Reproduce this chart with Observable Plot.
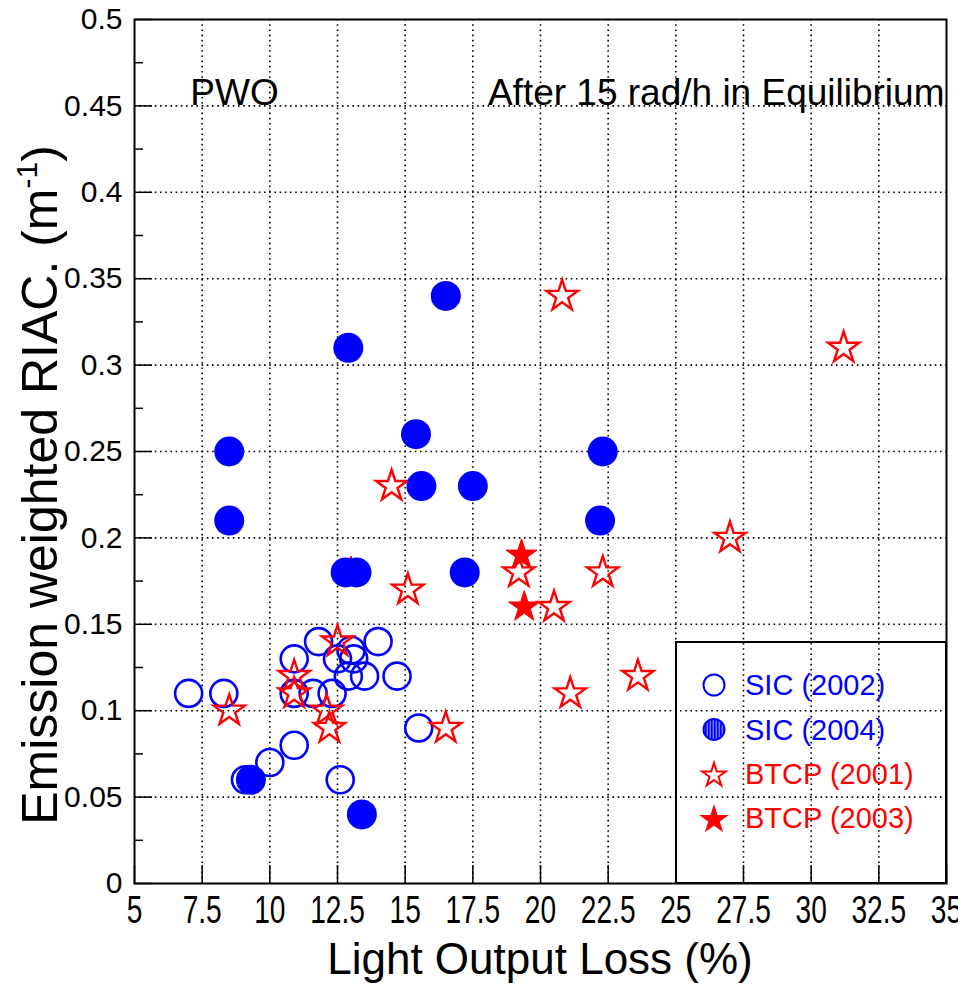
<!DOCTYPE html>
<html><head><meta charset="utf-8">
<script src="https://cdn.jsdelivr.net/npm/d3@7"></script>
<script src="https://cdn.jsdelivr.net/npm/@observablehq/plot@0.6"></script>
<style>body{margin:0;background:#fff} svg{display:block}</style>
</head><body><div id="chart"></div>
<script>
// ---- data ----
const sic2002X = [7.0, 8.3, 9.1, 10.0, 10.9, 10.9, 10.9, 11.6, 11.8, 12.3, 12.5, 12.9, 13.0, 13.1, 13.5, 14.0, 14.7, 15.5, 12.6];
const sic2002Y = [0.11, 0.11, 0.06, 0.07, 0.08, 0.13, 0.11, 0.11, 0.14, 0.11, 0.13, 0.12, 0.135, 0.13, 0.12, 0.14, 0.12, 0.09, 0.06];
const sic2004X = [8.5, 8.5, 9.3, 12.9, 16.5, 15.4, 15.6, 17.5, 22.3, 22.2, 12.8, 13.2, 17.2, 13.4];
const sic2004Y = [0.25, 0.21, 0.06, 0.31, 0.34, 0.26, 0.23, 0.23, 0.25, 0.21, 0.18, 0.18, 0.18, 0.04];
const btcp2001X = [8.5, 10.9, 10.9, 12.5, 12.1, 12.2, 16.5, 20.8, 14.5, 19.2, 22.3, 15.1, 20.5, 31.2, 27.0, 23.6, 21.1];
const btcp2001Y = [0.10, 0.12, 0.11, 0.14, 0.10, 0.09, 0.09, 0.34, 0.23, 0.18, 0.18, 0.17, 0.16, 0.31, 0.20, 0.12, 0.11];
const btcp2003X = [13.0, 19.3, 19.4];
const btcp2003Y = [0.18, 0.19, 0.16];

const xTicks = [5, 7.5, 10, 12.5, 15, 17.5, 20, 22.5, 25, 27.5, 30, 32.5, 35];
const xTickLabels = ["5", "7.5", "10", "12.5", "15", "17.5", "20", "22.5", "25", "27.5", "30", "32.5", "35"];
const yTicks = [0, 0.05, 0.1, 0.15, 0.2, 0.25, 0.3, 0.35, 0.4, 0.45, 0.5];
const yTickLabels = ["0", "0.05", "0.1", "0.15", "0.2", "0.25", "0.3", "0.35", "0.4", "0.45", "0.5"];
const yMinorTicks = [0.025, 0.075, 0.125, 0.175, 0.225, 0.275, 0.325, 0.375, 0.425, 0.475];

const legendLabels = ["SIC (2002)", "SIC (2004)", "BTCP (2001)", "BTCP (2003)"];
const legendColors = ["#0000ff", "#0000ff", "#ff0000", "#ff0000"];
const legendSymbols = ["circle", "circleHatch", "star", "starFilled"];

const xTitle = "Light Output Loss (%)";
const yTitle = "Emission weighted RIAC. (m";
const yTitleSup = "-1";
const noteLeft = "PWO";
const noteRight = "After 15 rad/h in Equilibrium";

// ---- layout ----
const W = 958, H = 984, mL = 134, mR = 12, mT = 19, mB = 101;
const plotW = W - mL - mR, plotH = H - mT - mB;
const BLUE = "#0000ff", RED = "#ff0000";
const rows = (xs, ys) => xs.map((x, i) => ({x, y: ys[i]}));
const FONT = "'Liberation Sans', Arial, Helvetica, sans-serif";

const svg = Plot.plot({
  width: W, height: H,
  marginLeft: mL, marginRight: mR, marginTop: mT, marginBottom: mB,
  style: {fontFamily: FONT, background: "#fff", color: "#000"},
  x: {domain: [5, 35]},
  y: {domain: [0, 0.5]},
  marks: [
    Plot.gridX(xTicks.slice(1, -1), {stroke: "#000", strokeOpacity: 1, strokeWidth: 1.6, strokeDasharray: "1.6,3.6"}),
    Plot.gridY(yTicks.slice(1, -1), {stroke: "#000", strokeOpacity: 1, strokeWidth: 1.6, strokeDasharray: "1.6,3.6"}),
    Plot.ruleX(xTicks, {insetTop: plotH - 18, stroke: "#000", strokeWidth: 1.5}),
    Plot.ruleY(yTicks, {insetRight: plotW - 18, stroke: "#000", strokeWidth: 1.5}),
    Plot.ruleY(yMinorTicks, {insetRight: plotW - 9, stroke: "#000", strokeWidth: 1.5}),
    Plot.axisX(xTicks, {tickSize: 0, tickPadding: 13, fontSize: 38, label: null,
      tickFormat: (d) => xTickLabels[xTicks.indexOf(d)]}),
    Plot.axisY(yTicks, {tickSize: 0, tickPadding: 12, fontSize: 30, label: null,
      tickFormat: (d) => yTickLabels[yTicks.indexOf(d)]}),
    Plot.dot(rows(sic2002X, sic2002Y), {x: "x", y: "y", r: 13.5, stroke: BLUE, strokeWidth: 2.6, fill: "none"}),
    Plot.dot(rows(btcp2001X, btcp2001Y), {x: "x", y: "y", symbol: "star", r: 9.8, stroke: RED, strokeWidth: 2.4, fill: "none"}),
    Plot.dot(rows(btcp2003X, btcp2003Y), {x: "x", y: "y", symbol: "star", r: 9.8, stroke: RED, strokeWidth: 1, fill: RED}),
    Plot.dot(rows(sic2004X, sic2004Y), {x: "x", y: "y", r: 15, fill: BLUE, stroke: "none"}),
    Plot.frame({stroke: "#000", strokeWidth: 2}),
    Plot.text([noteLeft], {frameAnchor: "top-left", dx: 100, dy: 59, fontSize: 37, textAnchor: "middle", fill: "#000"}),
    Plot.text([noteRight], {frameAnchor: "top-right", dx: -2, dy: 59, fontSize: 37, textAnchor: "end", fill: "#000"})
  ]
});

const root = d3.select(svg);

// condensed x tick labels
root.selectAll('g[aria-label="x-axis tick label"] text').each(function () {
  const t = this.getAttribute("transform");
  if (t) this.setAttribute("transform", t + " scale(0.74,1)");
  else {
    const x = this.getAttribute("x") || 0, y = this.getAttribute("y") || 0;
    this.removeAttribute("x"); this.removeAttribute("y");
    this.setAttribute("transform", `translate(${x},${y}) scale(0.74,1)`);
  }
});

// hatch pattern for SIC (2004) legend marker
const defs = root.append("defs");
const pat = defs.append("pattern").attr("id", "hatch").attr("patternUnits", "userSpaceOnUse")
  .attr("width", 3).attr("height", 3);
pat.append("rect").attr("width", 3).attr("height", 3).attr("fill", "#7a7aff");
pat.append("rect").attr("width", 1.6).attr("height", 3).attr("fill", BLUE);

// axis titles
root.append("text")
  .attr("x", mL + plotW / 2).attr("y", 974)
  .attr("text-anchor", "middle").attr("font-size", 44).attr("font-family", FONT)
  .attr("fill", "#000").text(xTitle);

const yt = root.append("text")
  .attr("transform", "translate(57,485) rotate(-90)")
  .attr("text-anchor", "middle").attr("font-size", 50).attr("font-family", FONT).attr("fill", "#000");
yt.append("tspan").text(yTitle);
yt.append("tspan").attr("font-size", 30).attr("dy", -20).text(yTitleSup);
yt.append("tspan").attr("dy", 20).text(")");

// legend (inside the frame, bottom-right)
const fr = W - mR, fb = H - mB;
const lg = root.append("g");
lg.append("rect").attr("x", fr - 270).attr("y", fb - 241).attr("width", 270).attr("height", 241)
  .attr("fill", "none").attr("stroke", "#000").attr("stroke-width", 2);
legendLabels.forEach((lab, i) => {
  const cy = fb - 198 + i * 44.4, mx = fr - 232;
  const kind = legendSymbols[i];
  const isStar = kind.startsWith("star");
  const path = d3.symbol(isStar ? d3.symbolStar : d3.symbolCircle, isStar ? Math.PI * 7.4 * 7.4 : Math.PI * 10.5 * 10.5)();
  const p = lg.append("path").attr("d", path).attr("transform", `translate(${mx},${cy + (isStar ? 1.5 : 0)})`)
    .attr("stroke", legendColors[i]).attr("stroke-width", 2);
  if (kind === "circle" || kind === "star") p.attr("fill", "none");
  else if (kind === "circleHatch") p.attr("fill", "url(#hatch)");
  else p.attr("fill", legendColors[i]);
  lg.append("text").attr("x", fr - 201).attr("y", cy).attr("dy", "0.35em")
    .attr("text-anchor", "start")
    .attr("font-size", 29).attr("font-family", FONT).attr("fill", legendColors[i]).text(lab);
});

document.getElementById("chart").append(svg);
</script>
</body></html>
